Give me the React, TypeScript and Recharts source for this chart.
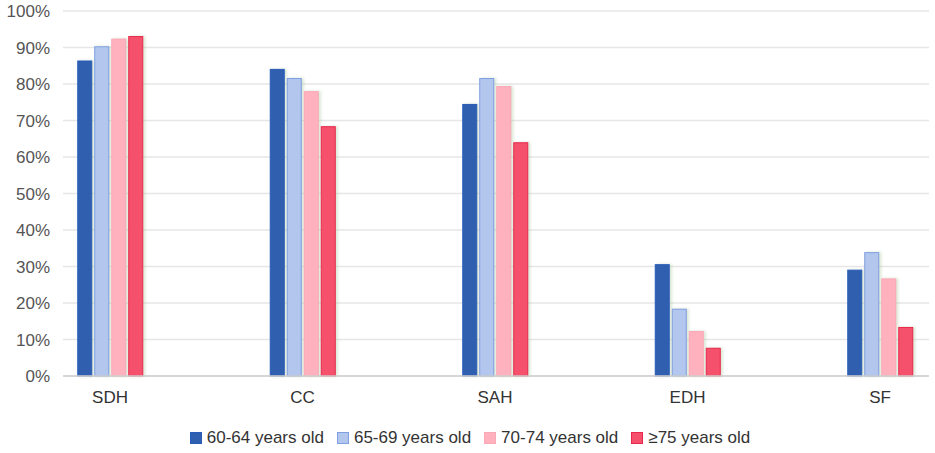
import { BarChart, Bar, XAxis, YAxis, CartesianGrid, Legend } from "recharts";

const categories = ["SDH", "CC", "SAH", "EDH", "SF"];
const age6064 = [86.3, 84.0, 74.4, 30.5, 29.0];
const age6569 = [90.2, 81.5, 81.5, 18.3, 33.8];
const age7074 = [92.3, 77.9, 79.3, 12.2, 26.6];
const age75 = [93.0, 68.3, 63.9, 7.6, 13.3];
const yTicks = [0, 10, 20, 30, 40, 50, 60, 70, 80, 90, 100];

const series = [
  { key: "a", name: "60-64 years old", fill: "#2f5fae", stroke: "#2a5cba" },
  { key: "b", name: "65-69 years old", fill: "#b3c7ee", stroke: "#7f9fe0" },
  { key: "c", name: "70-74 years old", fill: "#ffb1be", stroke: "#fba8b6" },
  { key: "d", name: "≥75 years old", fill: "#f5506c", stroke: "#e8284c" },
];

const data = categories.map((name, i) => ({
  name,
  a: age6064[i],
  b: age6569[i],
  c: age7074[i],
  d: age75[i],
}));

const font = "'Liberation Sans', Arial, sans-serif";

// rect with a soft shadow on the right, like the original
function ShadowBar(props: any) {
  const { x, y, width, height, fill, stroke } = props;
  if (!height || height <= 0) return null;
  return (
    <rect
      x={x}
      y={y}
      width={width}
      height={height}
      fill={fill}
      stroke={stroke}
      strokeWidth={1}
      style={{ filter: "drop-shadow(2px 0px 1.5px rgba(170,200,160,0.45))" }}
    />
  );
}

function LegendContent() {
  return (
    <div
      style={{
        display: "flex",
        justifyContent: "center",
        alignItems: "center",
        height: 24,
        fontFamily: font,
        fontSize: 17,
        color: "#333",
        paddingLeft: 24,
      }}
    >
      {series.map((s) => (
        <div key={s.key} style={{ display: "flex", alignItems: "center", marginRight: 13 }}>
          <span
            style={{
              display: "inline-block",
              width: 10,
              height: 10,
              background: s.fill,
              border: `1px solid ${s.stroke}`,
              marginRight: 5,
            }}
          />
          <span>{s.name}</span>
        </div>
      ))}
    </div>
  );
}

export default function App() {
  return (
    <div style={{ position: "absolute", left: 0, top: 0, background: "#fff" }}>
      <BarChart
        width={935}
        height={453}
        data={data}
        margin={{ top: 11, right: 6, bottom: 3, left: 0 }}
        barSize={14}
        barGap={3}
      >
        <CartesianGrid vertical={false} stroke="#e6e6e6" strokeWidth={1.5} />
        <XAxis
          dataKey="name"
          padding={{ left: -49.25, right: -47.25 }}
          tickLine={false}
          tickMargin={9}
          height={50}
          axisLine={{ stroke: "#cfcfcf", strokeWidth: 1.5 }}
          tick={{ fontSize: 17, fill: "#333", fontFamily: font }}
        />
        <YAxis
          domain={[0, 100]}
          ticks={yTicks}
          width={63}
          tickLine={false}
          axisLine={false}
          tickMargin={7}
          tickFormatter={(v: number) => `${v}%`}
          tick={{ fontSize: 17, fill: "#555", fontFamily: font }}
        />
        <Legend verticalAlign="bottom" height={24} content={<LegendContent />} />
        {series.map((s) => (
          <Bar
            key={s.key}
            dataKey={s.key}
            name={s.name}
            fill={s.fill}
            stroke={s.stroke}
            shape={<ShadowBar />}
            isAnimationActive={false}
          />
        ))}
      </BarChart>
    </div>
  );
}
